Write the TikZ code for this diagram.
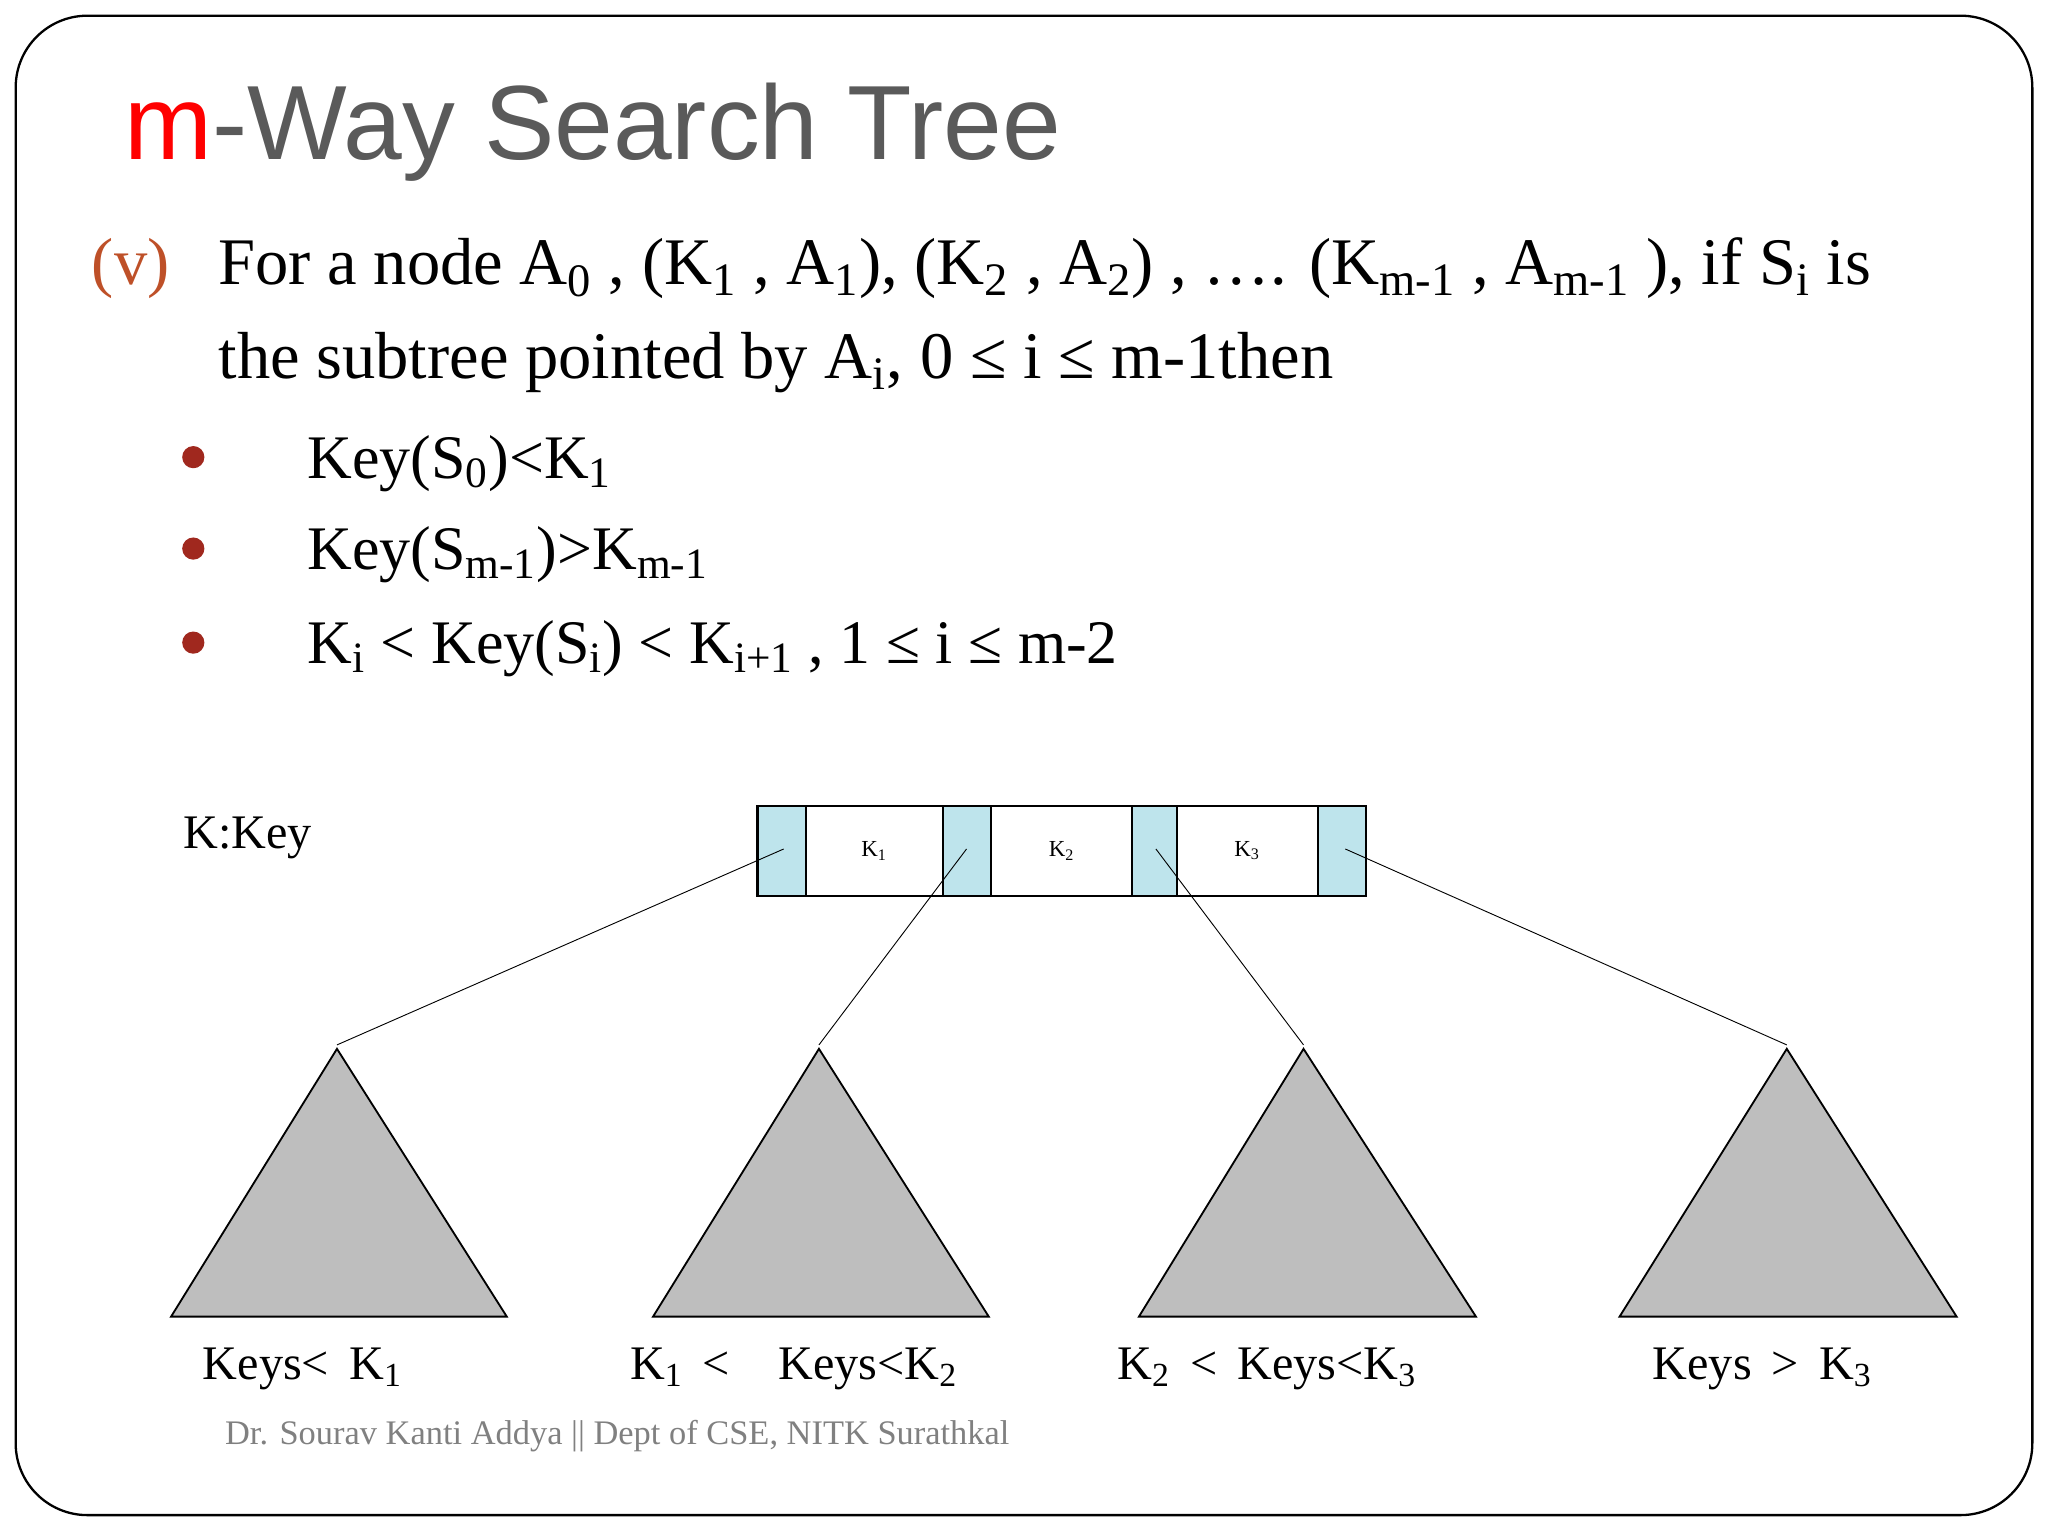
\documentclass[tikz,border=0pt]{standalone}
\usepackage{fontspec}
\setmainfont{Liberation Serif}
\newfontfamily\titlefont{Liberation Sans}
\newcommand\sbs[1]{\textsubscript{#1}}
\definecolor{titlegray}{RGB}{90,90,90}
\definecolor{vcol}{RGB}{190,80,40}
\definecolor{bulcol}{RGB}{160,40,30}
\definecolor{cellblue}{RGB}{190,228,236}
\definecolor{trigray}{RGB}{190,190,190}
\begin{document}
\begin{tikzpicture}[x=0.02cm,y=-0.02cm,
  body/.style={anchor=base west,inner sep=0,font=\fontsize{29}{34}\selectfont},
  item/.style={anchor=base west,inner sep=0,font=\fontsize{27}{32}\selectfont},
  lab/.style={anchor=base west,inner sep=0,font=\fontsize{21}{25}\selectfont},
  cell/.style={draw,line width=1pt,minimum height=69*0.02cm,inner sep=0,anchor=north west},
  tri/.style={draw,fill=trigray,line width=0.8pt},
  bul/.style={circle,fill=bulcol,inner sep=0,minimum size=0.34cm}]
\useasboundingbox (0,0) rectangle (1568,1176);
\draw[line width=1pt,rounded corners=1.1cm] (12,12) rectangle (1556,1160);
\node[anchor=base west,inner sep=0,font=\titlefont\fontsize{46}{50}\selectfont,text=titlegray] (title) at (95,122) {\textcolor{red}{m}-Way Search Tree};
\node[body,text=vcol] (v) at (70,218) {(v)};
\node[body] (l1) at (167,218) {For a node A\sbs{0} , (K\sbs{1} , A\sbs{1}), (K\sbs{2} , A\sbs{2}) , \dots. (K\sbs{m-1} , A\sbs{m-1} ), if S\sbs{i} is};
\node[body] (l2) at (167,290) {the subtree pointed by A\sbs{i}, 0 ≤ i ≤ m-1then};
\node[bul] (b1) at (148,350) {};
\node[bul] (b2) at (148,420) {};
\node[bul] (b3) at (148,492) {};
\node[item] (i1) at (235,366) {Key(S\sbs{0})<K\sbs{1}};
\node[item] (i2) at (235,436) {Key(S\sbs{m-1})>K\sbs{m-1}};
\node[item] (i3) at (235,508) {K\sbs{i} < Key(S\sbs{i}) < K\sbs{i+1} , 1 ≤ i ≤ m-2};
\node[lab] (kk) at (140,650) {K:Key};
\node[cell,fill=cellblue,minimum width=37*0.02cm] (c0) at (579,616) {};
\node[cell,minimum width=105*0.02cm] (c1) at (616,616) {K\sbs{1}};
\node[cell,fill=cellblue,minimum width=37*0.02cm] (c2) at (721,616) {};
\node[cell,minimum width=108*0.02cm] (c3) at (758,616) {K\sbs{2}};
\node[cell,fill=cellblue,minimum width=34*0.02cm] (c4) at (866,616) {};
\node[cell,minimum width=108*0.02cm] (c5) at (900,616) {K\sbs{3}};
\node[cell,fill=cellblue,minimum width=37*0.02cm] (c6) at (1008,616) {};
\coordinate (p0) at (600,650); \coordinate (p1) at (740,650);
\coordinate (p2) at (885,650); \coordinate (p3) at (1030,650);
\coordinate (t0) at (258,800); \coordinate (t1) at (627,800);
\coordinate (t2) at (998,800); \coordinate (t3) at (1368,800);
\draw (p0) -- (t0); \draw (p1) -- (t1); \draw (p2) -- (t2); \draw (p3) -- (t3);
\draw[tri] (258,803) -- (131,1008) -- (388,1008) -- cycle;
\draw[tri] (627,803) -- (500,1008) -- (757,1008) -- cycle;
\draw[tri] (998,803) -- (872,1008) -- (1130,1008) -- cycle;
\draw[tri] (1368,803) -- (1240,1008) -- (1498,1008) -- cycle;
\node[lab] (k0) at (155,1056) {Keys<\, K\sbs{1}};
\node[lab] (k1) at (482,1056) {K\sbs{1} \,<\quad Keys<K\sbs{2}};
\node[lab] (k2) at (855,1056) {K\sbs{2} \,<\, Keys<K\sbs{3}};
\node[lab] (k3) at (1265,1056) {Keys \,>\, K\sbs{3}};
\node[anchor=base west,inner sep=0,font=\fontsize{15}{18}\selectfont,text=gray] (foot) at (172,1106) {Dr. Sourav Kanti Addya || Dept of CSE, NITK Surathkal};
\end{tikzpicture}
\end{document}
